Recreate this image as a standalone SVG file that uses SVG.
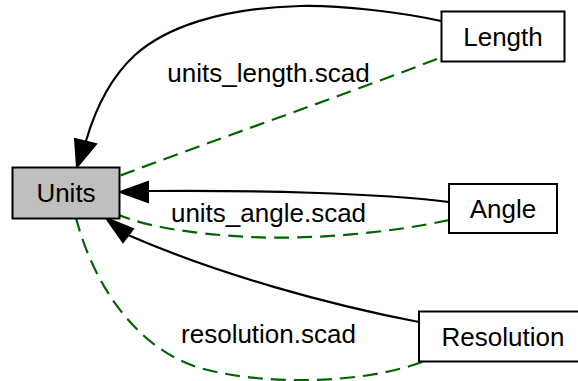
<svg xmlns="http://www.w3.org/2000/svg" width="578" height="381" viewBox="0 0 578 381">
<style>
.node rect{stroke:#000;stroke-width:2;fill:#fff}
.node text,.lbl{font-family:"Liberation Sans",Arial,sans-serif;font-size:26px;fill:#000;text-anchor:middle}
.e{fill:none;stroke:#000;stroke-width:2.2}
.d{fill:none;stroke:#006400;stroke-width:2.2;stroke-dasharray:15,8}
.ah{fill:#000;stroke:#000;stroke-width:2}
</style>
<rect width="578" height="381" fill="#fff"/>
<g id="connectors">
<path class="e" d="M441,21 C400,12 340,5 300,6 C220,8 165,28 135,55 C110,78 95,110 86,141"/>
<polygon class="ah" points="75,139 96,144 77,167"/>
<path class="d" d="M437,59 C330,100 220,138 119,176"/>
<path class="e" d="M449,202 C380,193 250,190 148,191"/>
<polygon class="ah" points="148,182 120,192 148,202"/>
<path class="d" d="M449,220 C390,233 310,240 250,237 C190,234 145,226 119,215"/>
<path class="e" d="M419,322 C330,305 220,275 128,235"/>
<polygon class="ah" points="106,218 133,229 123,242"/>
<path class="d" d="M422,362 C360,385 260,385 200,368 C140,350 95,290 76,218"/>
<text class="lbl" x="268.5" y="82">units_length.scad</text>
<text class="lbl" x="268.5" y="222">units_angle.scad</text>
<text class="lbl" x="268.5" y="343">resolution.scad</text>
</g>
<g id="Units" class="node"><rect x="12.5" y="167.5" width="107" height="51" style="fill:#bfbfbf"/><text x="66" y="202">Units</text></g>
<g id="Length" class="node"><rect x="441.5" y="11.5" width="123" height="50"/><text x="503" y="46">Length</text></g>
<g id="Angle" class="node"><rect x="449" y="184" width="108" height="49"/><text x="503" y="218">Angle</text></g>
<g id="Resolution" class="node"><rect x="419" y="311.5" width="169" height="50"/><text x="503" y="346">Resolution</text></g>
</svg>
